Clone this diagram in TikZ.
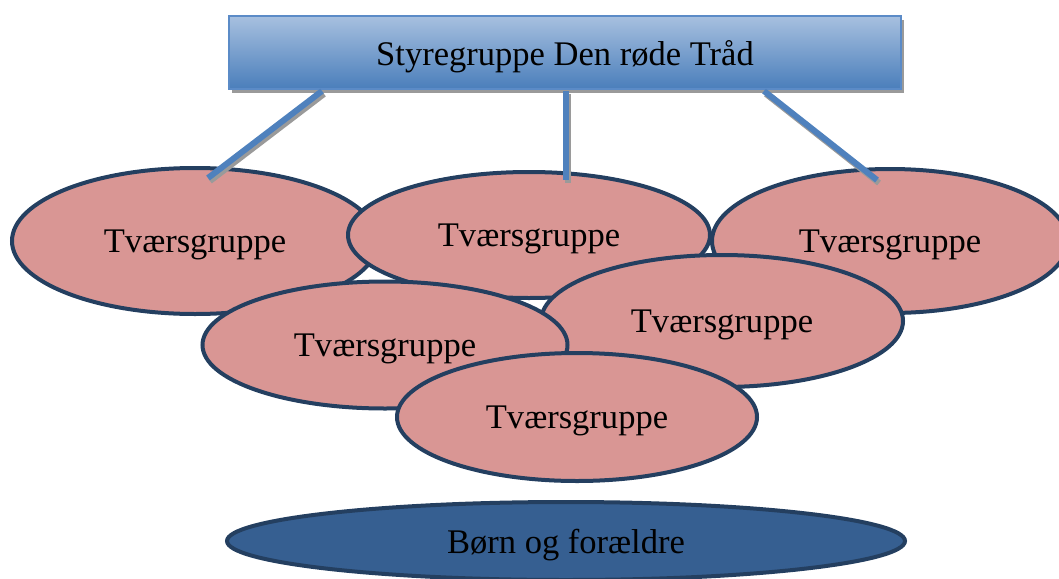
\documentclass[tikz,border=0pt]{standalone}
\usepackage{fontspec}
\setmainfont{Liberation Serif}
\usetikzlibrary{shapes.geometric,calc}
\definecolor{pinkfill}{HTML}{D99694}
\definecolor{navyline}{HTML}{243F60}
\definecolor{bluefill}{HTML}{365F91}
\definecolor{boxtop}{HTML}{A7C0DF}
\definecolor{boxbot}{HTML}{4A7EBB}
\definecolor{boxline}{HTML}{5B8BC7}
\definecolor{linkblue}{HTML}{4F81BD}
\definecolor{shadowgray}{HTML}{9A9A9A}
\tikzset{
  txt/.style={font=\fontsize{25.9}{30}\selectfont, text=black, text depth=0pt},
  group/.style={ellipse, draw=navyline, line width=3pt, fill=pinkfill, inner sep=0pt, txt},
  base/.style={ellipse, draw=navyline, line width=3pt, fill=bluefill, inner sep=0pt, txt},
  headbox/.style={rectangle, draw=boxline, line width=0.8pt, top color=boxtop, bottom color=boxbot, inner sep=0pt, txt},
  link/.style={draw=linkblue, line width=4.5pt},
  linkshadow/.style={draw=shadowgray, line width=4.5pt},
}
\begin{document}
\begin{tikzpicture}[x=0.75pt,y=-0.75pt]
\clip (0,0) rectangle (1059,578);
% head box with shadow
\fill[shadowgray] (232,20) rectangle (904,93);
\node[headbox, minimum width=504pt, minimum height=54.75pt] (head) at (565,52.5) {Styregruppe Den røde Tråd};
% ellipses
\node[group, minimum width=274.5pt, minimum height=109.5pt] (e1) at (195,241) {Tværsgruppe};
\node[group, minimum width=271.5pt, minimum height=94.5pt] (e2) at (529,235) {Tværsgruppe};
\node[group, minimum width=267pt, minimum height=108pt] (e3) at (890,241) {Tværsgruppe};
\node[group, minimum width=271.5pt, minimum height=99pt] (e5) at (722,321) {Tværsgruppe};
\node[group, minimum width=273.75pt, minimum height=95.25pt] (e4) at (385,345) {Tværsgruppe};
\node[group, minimum width=270pt, minimum height=96pt] (e6) at (577,417) {Tværsgruppe};
\node[base, minimum width=508.5pt, minimum height=58.5pt] (parents) at (566,541) {Børn og forældre};
% connector end points
\coordinate (s1) at (322,91);
\coordinate (t1) at (208,178);
\coordinate (s2) at (566,91);
\coordinate (t2) at (566,180);
\coordinate (s3) at (764,91);
\coordinate (t3) at (877,180);
% connectors with shadows
\foreach \s/\t in {s1/t1,s2/t2,s3/t3}{
  \draw[linkshadow] ($(\s)+(2,3)$) -- ($(\t)+(2,3)$);
}
\foreach \s/\t in {s1/t1,s2/t2,s3/t3}{
  \draw[link] (\s) -- (\t);
}
\end{tikzpicture}
\end{document}
